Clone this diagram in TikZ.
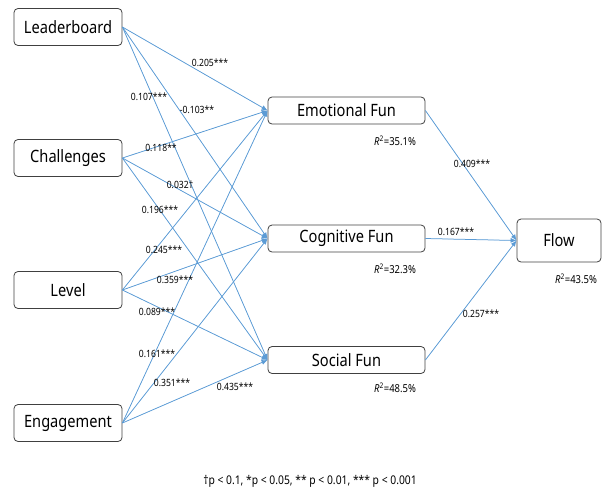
\documentclass[tikz,border=0pt]{standalone}
\usepackage{fontspec}
\setmainfont{Noto Sans}[FakeStretch=0.86]
\usepackage{tikz}
\usetikzlibrary{arrows.meta}
\definecolor{pathblue}{RGB}{91,155,213}
\definecolor{boxgray}{RGB}{64,64,64}

\begin{document}
\begin{tikzpicture}[x=1pt, y=-1pt, every node/.style={font=\small}, >={Latex[length=6pt,width=5pt]},
	box/.style={draw=boxgray, rounded corners=4pt, line width=0.8pt, inner sep=0pt, font=\fontsize{17}{19}\selectfont},
	srcbox/.style={box, minimum width=108pt, minimum height=37pt},
	medbox/.style={box, minimum width=157pt, minimum height=27pt},
	link/.style={->, draw=pathblue, fill=pathblue, line width=0.75pt},
	coef/.style={inner sep=0pt, font=\fontsize{10}{11}\selectfont},
	rsq/.style={inner sep=0pt, font=\fontsize{11}{12}\selectfont}]
	\useasboundingbox (0,0) rectangle (602,493);
	% constructs
	\node[srcbox] (lead) at (68,27) {Leaderboard};
	\node[srcbox] (chal) at (68,158) {Challenges};
	\node[srcbox] (lev) at (68,290) {Level};
	\node[srcbox] (eng) at (68,423) {Engagement};
	\node[medbox] (emo) at (346.5,110.5) {Emotional Fun};
	\node[medbox] (cog) at (346.5,238.5) {Cognitive Fun};
	\node[medbox] (soc) at (346.5,360) {Social Fun};
	\node[box, minimum width=84pt, minimum height=43pt] (flow) at (559,240.5) {Flow};
	% paths
	\foreach \s in {lead,chal,lev,eng} {
		\foreach \t in {emo,cog,soc} {\draw[link] (\s.east) -- (\t.west);}
	}
	\foreach \m in {emo,cog,soc} {\draw[link] (\m.east) -- (flow.west);}
	% coefficients
	\node[coef] (c1) at (210,63) {0.205***};
	\node[coef] (c2) at (149,97) {0.107***};
	\node[coef] (c3) at (197,110) {-0.103**};
	\node[coef] (c4) at (161,148) {0.118**};
	\node[coef] (c5) at (180,185) {0.032†};
	\node[coef] (c6) at (160,210) {0.196***};
	\node[coef] (c7) at (164,250) {0.245***};
	\node[coef] (c8) at (175,280) {0.359***};
	\node[coef] (c9) at (157,312) {0.089***};
	\node[coef] (c10) at (157,354) {0.161***};
	\node[coef] (c11) at (172,383) {0.351***};
	\node[coef] (c12) at (235,387) {0.435***};
	\node[coef] (c13) at (472,164) {0.409***};
	\node[coef] (c14) at (456,231.5) {0.167***};
	\node[coef] (c15) at (481,314) {0.257***};
	% explained variance
	\node[rsq] (r1) at (395,141) {\textit{R}\textsuperscript{2}=35.1\%};
	\node[rsq] (r2) at (395,269) {\textit{R}\textsuperscript{2}=32.3\%};
	\node[rsq] (r3) at (395,388) {\textit{R}\textsuperscript{2}=48.5\%};
	\node[rsq] (r4) at (576,279) {\textit{R}\textsuperscript{2}=43.5\%};
	\node[inner sep=0pt, font=\fontsize{12}{13}\selectfont] (note) at (310,481) {†p < 0.1, *p < 0.05, ** p < 0.01, *** p < 0.001};
\end{tikzpicture}
\end{document}
